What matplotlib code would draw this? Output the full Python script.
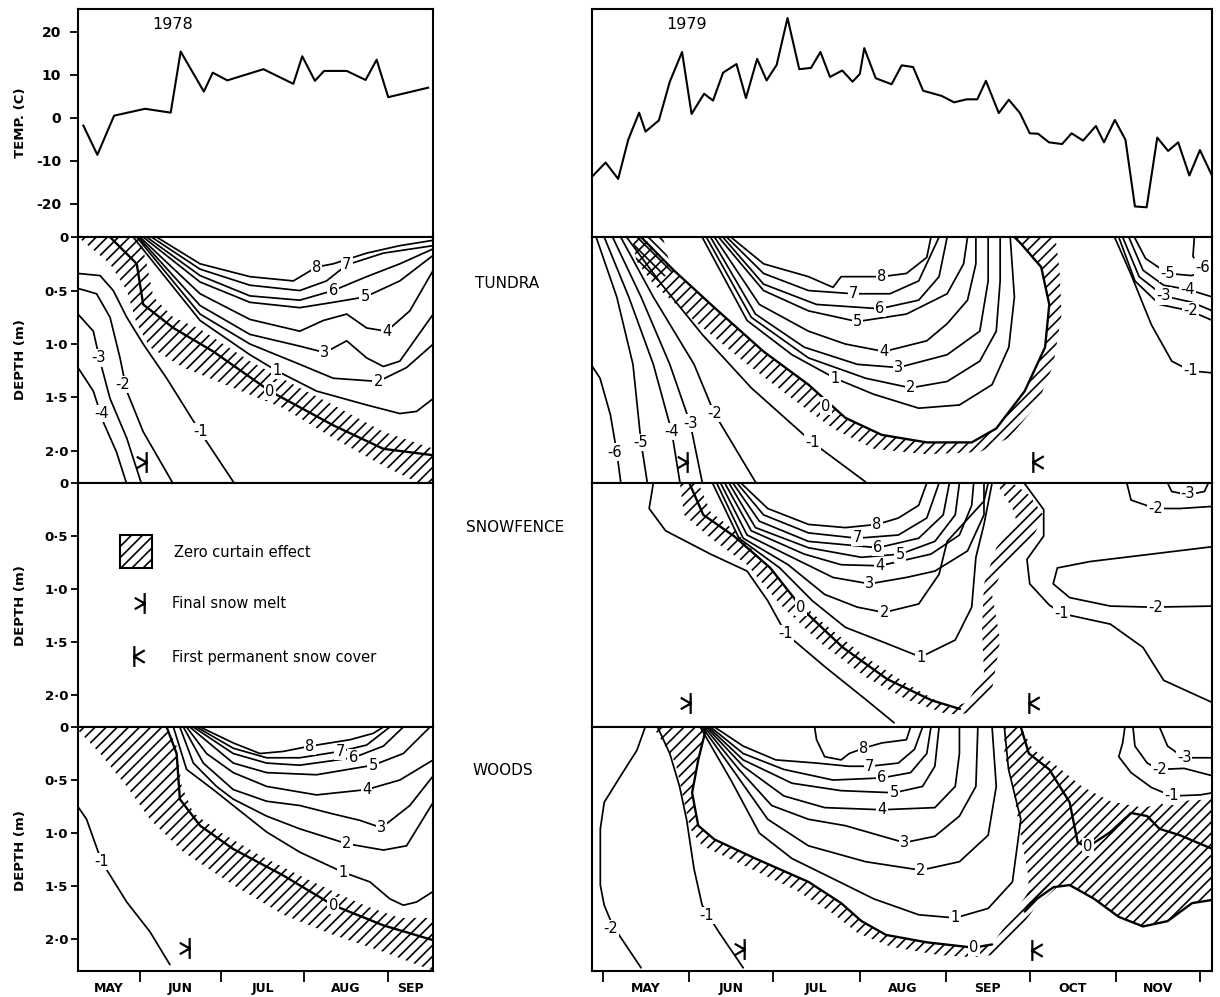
import matplotlib
matplotlib.use("Agg")
import matplotlib.pyplot as plt
from matplotlib.path import Path
from matplotlib.patches import Rectangle

# x values are days counted from 1 May, depth in metres

# ---- air temperature ----
TEMP78_DAY = [10.0, 15.2, 21.4, 32.9, 42.4, 46.1, 54.7, 58.0, 63.4, 76.8, 87.9, 91.2,
              95.9, 99.3, 107.7, 114.7, 118.8, 123.1, 137.9]
TEMP78_C = [-1.8, -8.6, 0.5, 2.1, 1.2, 15.4, 6.1, 10.5, 8.7, 11.3, 7.9, 14.3,
            8.6, 10.9, 10.9, 8.8, 13.5, 4.8, 7.0]

TEMP79_DAY = [-3.9, 1.0, 5.5, 9.1, 13.0, 15.3, 20.1, 24.0, 28.4, 31.8, 36.3, 39.5, 43.1,
              47.9, 51.3, 55.3, 58.7, 62.3, 66.2, 70.4, 74.6, 78.0, 81.4, 85.8, 89.5,
              92.1, 93.7, 97.8, 103.5, 107.1, 111.2, 114.8, 121.4, 125.9, 130.4, 134.2,
              137.3, 141.9, 145.5, 149.5, 153.0, 156.0, 159.9, 164.6, 168.0, 172.1,
              176.7, 179.6, 183.5, 187.3, 190.7, 194.9, 198.7, 202.6, 206.2, 210.2,
              214.0, 218.3]
TEMP79_C = [-13.7, -10.4, -14.2, -5.1, 1.2, -3.2, -0.6, 8.4, 15.3, 0.9, 5.6, 4.0, 10.5,
            12.5, 4.6, 13.7, 8.7, 12.3, 23.2, 11.3, 11.6, 15.3, 9.5, 11.0, 8.4,
            10.2, 16.2, 9.2, 7.8, 12.2, 11.8, 6.3, 5.1, 3.6, 4.3, 4.3,
            8.6, 1.1, 4.2, 1.1, -3.6, -3.7, -5.7, -6.1, -3.6, -5.3,
            -1.9, -5.7, -0.5, -5.1, -20.6, -20.8, -4.6, -7.7, -5.7, -13.4,
            -7.5, -13.4]

MONTHS_78 = ['MAY', 'JUN', 'JUL', 'AUG', 'SEP']
MONTH_EDGES_78 = [8, 31, 61, 92, 123, 139.7]
MONTHS_79 = ['MAY', 'JUN', 'JUL', 'AUG', 'SEP', 'OCT', 'NOV']
MONTH_EDGES_79 = [0, 31, 61, 92, 123, 153, 184, 214]

# ---- isotherms: (level, days, depths) ----
TUNDRA_78 = [
    (8, [37.2, 53.3, 71.8, 87.9, 96.5, 102.7, 115.1, 127.4, 139.8], [0, 0.25, 0.37, 0.41, 0.28, 0.25, 0.15, 0.08, 0.03]),
    (7, [35.3, 53.3, 71.8, 90.3, 100.2, 107.7, 121.3, 139.8], [0, 0.30, 0.45, 0.50, 0.41, 0.26, 0.15, 0.08]),
    (6, [33.5, 53.3, 71.8, 90.3, 102.7, 115.1, 127.4, 139.8], [0, 0.36, 0.55, 0.59, 0.50, 0.37, 0.25, 0.11]),
    (5, [32.2, 53.3, 71.8, 90.3, 102.7, 114.5, 127.4, 139.8], [0, 0.42, 0.61, 0.66, 0.61, 0.56, 0.41, 0.17]),
    (4, [31.0, 53.3, 71.8, 90.3, 99.0, 107.7, 115.1, 122.5, 131.1, 139.8], [0, 0.53, 0.77, 0.88, 0.78, 0.72, 0.85, 0.88, 0.69, 0.31]),
    (3, [30.4, 53.3, 71.8, 90.3, 99.6, 107.7, 115.1, 121.3, 127.4, 139.8], [0, 0.64, 0.91, 1.02, 1.08, 0.97, 1.13, 1.21, 1.16, 0.72]),
    (2, [29.8, 53.3, 71.8, 90.3, 102.7, 119.4, 129.9, 139.8], [0, 0.72, 1.00, 1.19, 1.32, 1.35, 1.22, 1.00]),
    (1, [28.5, 53.3, 71.8, 81.7, 96.5, 115.1, 127.4, 133.6, 139.8], [0, 0.78, 1.10, 1.25, 1.44, 1.57, 1.65, 1.63, 1.51]),
    (0, [19.9, 29.8, 32.2, 43.4, 58.2, 79.2, 102.7, 121.3, 139.8], [0, 0.25, 0.63, 0.85, 1.07, 1.44, 1.76, 1.98, 2.04]),
    (-1, [8.0, 16.2, 21.1, 26.1, 32.2, 40.9, 53.3, 66.2], [0.34, 0.36, 0.50, 0.75, 1.00, 1.32, 1.82, 2.31]),
    (-2, [8.0, 14.9, 19.9, 23.6, 26.1, 32.2, 43.4], [0.48, 0.53, 0.75, 1.13, 1.44, 1.82, 2.31]),
    (-3, [8.0, 13.7, 16.2, 19.9, 26.1, 31.6], [0.72, 0.88, 1.16, 1.51, 1.88, 2.31]),
    (-4, [8.0, 13.7, 17.4, 22.3, 26.1], [1.22, 1.44, 1.73, 2.01, 2.31]),
]
TUNDRA_78_LABELS = [('8', 96.5, 0.28), ('7', 107.7, 0.26), ('6', 102.7, 0.50), ('5', 114.5, 0.56),
                    ('4', 122.5, 0.88), ('3', 99.6, 1.08), ('2', 119.4, 1.35), ('1', 81.7, 1.25),
                    ('0', 79.2, 1.44), ('-1', 53.3, 1.82), ('-2', 24.5, 1.38), ('-3', 15.8, 1.13),
                    ('-4', 16.6, 1.65)]
TUNDRA_78_ZONE_DAY = [8.0, 19.9, 26.1, 29.8, 34.7, 47.1, 65.6, 84.2, 102.7, 121.3, 133.6, 140,
                      140, 121.3, 102.7, 90.3, 71.8, 53.3, 43.4, 36.0, 33.5, 31.0]
TUNDRA_78_ZONE_DEPTH = [0, 0.25, 0.50, 0.81, 1.03, 1.22, 1.41, 1.60, 1.88, 2.14, 2.29, 2.31,
                        1.98, 1.82, 1.57, 1.41, 1.16, 0.86, 0.75, 0.56, 0.25, 0]

WOODS_78 = [
    (8, [53.3, 65.6, 75.5, 84.2, 94.1, 108.9, 117.5, 121.3], [0, 0.15, 0.25, 0.23, 0.18, 0.12, 0.06, 0]),
    (7, [52.0, 65.6, 78.0, 90.3, 105.2, 115.1, 123.7], [0, 0.20, 0.29, 0.29, 0.23, 0.17, 0]),
    (6, [50.8, 65.6, 78.0, 90.3, 110.1, 121.3, 128.7], [0, 0.25, 0.34, 0.36, 0.29, 0.18, 0]),
    (5, [49.5, 65.6, 78.0, 96.5, 117.5, 128.7, 138.6], [0, 0.34, 0.43, 0.45, 0.36, 0.25, 0]),
    (4, [48.3, 55.7, 65.6, 78.0, 96.5, 115.1, 127.4, 139.8], [0, 0.25, 0.43, 0.56, 0.64, 0.59, 0.50, 0.31]),
    (3, [47.1, 54.5, 65.6, 78.0, 90.3, 102.7, 112.6, 120.6, 131.1, 139.8], [0, 0.34, 0.59, 0.70, 0.74, 0.82, 0.88, 0.95, 0.74, 0.46]),
    (2, [45.8, 50.8, 59.4, 65.6, 78.0, 90.3, 107.7, 121.3, 129.9, 139.8], [0, 0.34, 0.56, 0.68, 0.84, 0.96, 1.10, 1.16, 1.12, 0.71]),
    (1, [43.4, 48.3, 58.2, 65.6, 78.0, 90.3, 106.4, 116.3, 123.7, 128.7, 133.6, 139.8], [0, 0.40, 0.59, 0.74, 0.99, 1.18, 1.37, 1.46, 1.62, 1.68, 1.65, 1.55]),
    (0, [40.9, 44.6, 45.8, 53.3, 65.6, 84.2, 102.7, 121.3, 139.8], [0, 0.25, 0.68, 0.93, 1.15, 1.40, 1.68, 1.87, 2.01]),
    (-1, [6.9, 11.2, 16.8, 26.1, 34.7, 42.1], [0.71, 0.87, 1.27, 1.65, 1.93, 2.24]),
]
WOODS_78_LABELS = [('8', 94.1, 0.18), ('7', 105.2, 0.23), ('6', 110.1, 0.29), ('5', 117.5, 0.36),
                   ('4', 115.1, 0.59), ('3', 120.6, 0.95), ('2', 107.7, 1.10), ('1', 106.4, 1.37),
                   ('0', 102.7, 1.68), ('-1', 16.8, 1.27)]
WOODS_78_ZONE_DAY = [6.9, 16.2, 26.1, 34.7, 47.1, 65.6, 84.2, 102.7, 121.3, 140,
                     140, 127.4, 115.1, 102.7, 90.3, 75.5, 60.7, 50.8, 46.5, 44.6, 40.9]
WOODS_78_ZONE_DEPTH = [0, 0.25, 0.56, 0.87, 1.18, 1.49, 1.77, 1.96, 2.12, 2.30,
                       1.80, 1.80, 1.69, 1.55, 1.40, 1.21, 0.99, 0.81, 0.56, 0.18, 0]

TUNDRA_79 = [
    (8, [45.9, 57.6, 73.7, 82.5, 85.4, 94.2, 100.0, 108.8, 116.1, 117.6], [0, 0.25, 0.37, 0.47, 0.37, 0.37, 0.37, 0.34, 0.19, 0]),
    (7, [44.4, 57.6, 73.7, 89.8, 102.9, 113.2, 120.5], [0, 0.34, 0.50, 0.53, 0.53, 0.41, 0]),
    (6, [43.0, 57.6, 76.6, 99.3, 113.2, 120.5, 123.4], [0, 0.44, 0.63, 0.67, 0.59, 0.37, 0]),
    (5, [41.5, 57.6, 73.7, 91.2, 108.8, 123.4, 129.3, 130.7], [0, 0.50, 0.69, 0.79, 0.72, 0.53, 0.25, 0]),
    (4, [40.0, 56.1, 73.7, 86.9, 100.8, 116.1, 123.4, 130.7, 133.7, 133.7], [0, 0.63, 0.88, 1.00, 1.07, 0.97, 0.81, 0.59, 0.25, 0]),
    (3, [38.6, 54.7, 72.2, 91.2, 105.9, 123.4, 135.1, 138.1, 138.1], [0, 0.72, 1.03, 1.19, 1.22, 1.10, 0.88, 0.41, 0]),
    (2, [37.1, 53.2, 73.7, 94.2, 110.3, 123.4, 135.1, 141.0, 142.4, 142.4], [0, 0.75, 1.13, 1.32, 1.41, 1.35, 1.16, 0.88, 0.41, 0]),
    (1, [35.6, 51.7, 67.8, 83.2, 97.1, 113.2, 127.8, 139.5, 145.5, 147.5, 146.0], [0, 0.78, 1.10, 1.32, 1.47, 1.60, 1.57, 1.38, 1.03, 0.56, 0]),
    (0, [13.7, 25.4, 40.0, 57.6, 73.7, 86.9, 100.0, 116.1, 132.2, 141.0, 151.2, 158.5, 160.0, 157.1, 149.8, 147.5],
        [0, 0.31, 0.66, 1.07, 1.38, 1.69, 1.85, 1.92, 1.92, 1.79, 1.44, 1.03, 0.63, 0.28, 0.06, 0]),
    (-1, [8.5, 21.0, 35.6, 53.2, 75.1, 94.2], [0, 0.44, 0.91, 1.41, 1.92, 2.29]),
    (-2, [6.4, 18.1, 32.7, 40.0, 54.7], [0, 0.56, 1.19, 1.65, 2.29]),
    (-3, [3.5, 13.7, 24.0, 31.3, 35.6], [0, 0.56, 1.19, 1.74, 2.29]),
    (-4, [0.5, 9.3, 18.1, 24.7, 27.6], [0, 0.56, 1.19, 1.82, 2.29]),
    (-5, [-2.4, 5.0, 10.8, 13.7, 15.9], [0, 0.56, 1.19, 1.92, 2.29]),
    (-6, [-4.0, -1.0, 2.7, 5.0, 6.4], [1.20, 1.32, 1.66, 2.01, 2.29]),
    (-1, [183.4, 189.3, 196.6, 203.9, 210.5, 218.5], [0, 0.35, 0.82, 1.16, 1.25, 1.27]),
    (-2, [184.9, 190.7, 199.5, 210.5, 218.5], [0, 0.41, 0.63, 0.69, 0.78]),
    (-3, [186.3, 192.2, 201.0, 211.2, 218.5], [0, 0.37, 0.55, 0.61, 0.69]),
    (-4, [188.5, 193.6, 201.0, 209.7, 218.5], [0, 0.31, 0.45, 0.49, 0.56]),
    (-5, [190.5, 194.5, 202.4, 211.0, 218.5], [0, 0.20, 0.34, 0.36, 0.30]),
    (-6, [212.0, 211.5, 214.5, 218.5], [0, 0.18, 0.30, 0.28]),
]
TUNDRA_79_LABELS = [('8', 100.0, 0.37), ('7', 89.8, 0.53), ('6', 99.3, 0.67), ('5', 91.2, 0.79),
                    ('4', 100.8, 1.07), ('3', 105.9, 1.22), ('2', 110.3, 1.41), ('1', 83.2, 1.32),
                    ('0', 80.0, 1.58), ('-1', 75.1, 1.92), ('-2', 40.0, 1.65), ('-3', 31.3, 1.74),
                    ('-4', 24.7, 1.82), ('-5', 13.7, 1.92), ('-6', 4.2, 2.01),
                    ('-1', 210.5, 1.25), ('-2', 210.5, 0.69), ('-3', 201.0, 0.55),
                    ('-4', 209.7, 0.49), ('-5', 202.4, 0.34), ('-6', 214.9, 0.28)]
TUNDRA_79_ZONE_DAY = [14.5, 25.4, 40.0, 57.6, 73.7, 86.9, 100.0, 116.1, 132.2, 141.0, 151.2, 158.5, 160.0, 157.1, 149.8, 147.5,
                      162.2, 163.7, 164.4, 161.5, 155.6, 145.4, 135.1, 116.1, 97.1, 82.5, 67.8, 50.3, 32.7, 18.1, 12.0, 10.5]
TUNDRA_79_ZONE_DEPTH = [0, 0.31, 0.66, 1.07, 1.38, 1.69, 1.85, 1.92, 1.92, 1.79, 1.44, 1.03, 0.63, 0.28, 0.06, 0,
                        0, 0.31, 0.72, 1.19, 1.57, 1.88, 2.01, 2.03, 1.98, 1.79, 1.51, 1.16, 0.78, 0.44, 0.22, 0]
TUNDRA_79_CROSS_DAY = [10.5, 21.5, 23.5, 25.4, 18.1, 12.0]
TUNDRA_79_CROSS_DEPTH = [0, 0, 0.2, 0.31, 0.44, 0.22]

SNOW_79 = [
    (8, [49.5, 59.1, 73.7, 86.9, 98.3, 105.9, 113.2, 116.1], [0, 0.24, 0.39, 0.42, 0.39, 0.33, 0.21, 0]),
    (7, [48.1, 57.6, 73.7, 91.2, 105.9, 116.1, 120.5], [0, 0.30, 0.47, 0.52, 0.49, 0.33, 0]),
    (6, [46.6, 56.1, 73.7, 98.6, 113.2, 122.0, 124.2], [0, 0.36, 0.55, 0.61, 0.52, 0.30, 0]),
    (5, [45.2, 54.7, 73.7, 92.7, 106.6, 119.0, 126.3, 127.8], [0, 0.42, 0.61, 0.70, 0.67, 0.55, 0.30, 0]),
    (4, [43.7, 53.2, 72.2, 85.4, 99.3, 117.6, 127.8, 132.2, 132.9], [0, 0.45, 0.67, 0.77, 0.78, 0.67, 0.49, 0.21, 0]),
    (3, [42.2, 51.7, 67.8, 82.5, 95.6, 108.8, 119.0, 130.7, 136.6, 136.6], [0, 0.49, 0.70, 0.89, 0.95, 0.89, 0.83, 0.64, 0.30, 0]),
    (2, [40.8, 50.3, 66.4, 79.5, 91.2, 100.8, 113.2, 120.5, 123.4, 136.6, 138.1], [0, 0.52, 0.77, 1.05, 1.17, 1.22, 1.14, 0.86, 0.55, 0.17, 0]),
    (1, [39.3, 48.8, 63.4, 75.1, 86.9, 101.5, 113.9, 126.3, 132.2, 133.7, 136.6, 139.5], [0, 0.52, 0.80, 1.11, 1.36, 1.51, 1.64, 1.48, 1.17, 0.70, 0.39, 0]),
    (0, [31.0, 36.0, 47.0, 60.0, 72.0, 86.0, 102.0, 118.0, 128.0], [0, 0.30, 0.50, 0.80, 1.20, 1.55, 1.85, 2.05, 2.13]),
    (-1, [18.1, 16.6, 22.5, 38.6, 51.7, 59.1, 65.6, 79.5, 94.2, 104.4], [0, 0.24, 0.45, 0.67, 0.83, 1.11, 1.42, 1.73, 2.04, 2.26]),
    (-1, [151.0, 158.0, 158.0, 152.0, 153.0, 160.0, 164.4, 181.9, 193.6, 201.0, 218.5], [0, 0.25, 0.50, 0.72, 0.95, 1.15, 1.23, 1.33, 1.55, 1.86, 2.07]),
    (-2, [218.5, 196.6, 174.6, 162.9, 161.4, 167.3, 181.9, 196.6, 218.5], [0.60, 0.67, 0.74, 0.80, 0.95, 1.08, 1.16, 1.17, 1.16]),
    (-2, [187.8, 189.3, 198.0, 206.9, 218.5], [0, 0.16, 0.24, 0.24, 0.22]),
    (-3, [202.4, 203.9, 209.7, 215.6, 217.0], [0, 0.08, 0.11, 0.08, 0]),
]
SNOW_79_LABELS = [('8', 98.3, 0.39), ('7', 91.2, 0.51), ('6', 98.6, 0.61), ('5', 106.6, 0.67),
                  ('4', 99.3, 0.78), ('3', 95.6, 0.95), ('2', 100.8, 1.22), ('1', 113.9, 1.64),
                  ('0', 71.0, 1.17), ('-1', 65.6, 1.42), ('-1', 164.4, 1.23), ('-2', 198.0, 1.17),
                  ('-2', 198.0, 0.24), ('-3', 209.7, 0.10)]
SNOW_79_ZONE_DAY = [27.6, 29.1, 38.6, 51.7, 63.4, 78.1, 94.2, 108.8, 123.4, 132.2, 139.5, 142.4, 139.5, 143.9, 154.1, 157.8, 152.7, 146.8,
                    141.0, 146.8, 148.3, 141.0, 136.6, 135.9, 136.6, 130.7, 123.4, 108.8, 94.2, 79.5, 67.8, 57.6, 47.3, 38.6, 34.2]
SNOW_79_ZONE_DEPTH = [0, 0.30, 0.52, 0.77, 1.14, 1.51, 1.83, 2.04, 2.18, 2.17, 1.95, 1.48, 1.05, 0.77, 0.52, 0.30, 0.11, 0,
                      0, 0.24, 0.36, 0.61, 0.95, 1.39, 1.79, 2.07, 2.11, 1.89, 1.64, 1.33, 1.05, 0.74, 0.45, 0.27, 0]

WOODS_79 = [
    (8, [75.9, 76.6, 79.5, 85.4, 88.3, 93.4, 100.0, 108.8, 110.3], [0, 0.12, 0.28, 0.31, 0.25, 0.20, 0.15, 0.12, 0]),
    (7, [40.0, 50.3, 62.0, 76.6, 88.3, 95.6, 105.9, 111.7, 114.6], [0, 0.18, 0.31, 0.34, 0.37, 0.37, 0.34, 0.21, 0]),
    (6, [38.6, 50.3, 64.9, 82.5, 100.0, 110.3, 116.1, 117.6], [0, 0.25, 0.40, 0.50, 0.48, 0.43, 0.25, 0]),
    (5, [37.8, 50.3, 67.8, 85.4, 104.4, 114.6, 119.0, 120.5], [0, 0.31, 0.53, 0.60, 0.62, 0.56, 0.37, 0]),
    (4, [37.1, 50.3, 64.9, 79.5, 100.0, 119.0, 126.3, 127.8, 127.8], [0, 0.37, 0.65, 0.76, 0.78, 0.76, 0.56, 0.25, 0]),
    (3, [36.4, 48.8, 60.5, 73.7, 86.9, 108.1, 119.0, 127.8, 133.7, 134.4], [0, 0.40, 0.74, 0.87, 0.93, 1.09, 1.03, 0.84, 0.56, 0]),
    (2, [35.6, 47.3, 59.1, 73.7, 94.2, 114.0, 127.8, 138.1, 141.0, 139.5], [0, 0.43, 0.87, 1.12, 1.27, 1.35, 1.27, 1.02, 0.56, 0]),
    (1, [34.9, 45.9, 56.1, 67.8, 82.5, 97.1, 113.2, 126.3, 138.1, 146.8, 149.8, 145.4, 143.9],
        [0, 0.50, 1.00, 1.24, 1.43, 1.62, 1.77, 1.80, 1.71, 1.46, 0.87, 0.40, 0]),
    (0, [37.1, 34.2, 32.0, 34.2, 40.0, 54.7, 73.7, 85.4, 92.7, 101.5, 116.1, 132.9, 139.5],
        [0, 0.31, 0.62, 0.93, 1.06, 1.24, 1.46, 1.66, 1.83, 1.96, 2.03, 2.08, 2.05]),
    (0, [149.8, 152.7, 160.0, 167.3, 170.2, 173.9, 181.9, 189.3, 195.1, 199.5, 206.8, 218.5],
        [0, 0.25, 0.40, 0.71, 1.09, 1.13, 0.99, 0.81, 0.84, 0.96, 1.02, 1.15]),
    (0, [151.2, 155.6, 161.5, 167.3, 176.1, 184.9, 193.6, 202.4, 211.2, 218.5],
        [1.74, 1.62, 1.51, 1.49, 1.62, 1.79, 1.88, 1.83, 1.66, 1.63]),
    (-1, [19.6, 24.0, 27.5, 30.0, 32.7, 35.6, 41.5, 50.3], [0, 0.25, 0.56, 0.87, 1.34, 1.68, 1.93, 2.27]),
    (-2, [15.2, 12.2, 6.4, 0.5, -0.9, -0.9, 0.5, 3.5, 13.7], [0, 0.22, 0.46, 0.71, 0.96, 1.49, 1.68, 1.87, 2.27]),
    (-1, [187.1, 186.3, 184.9, 189.3, 196.6, 203.9, 214.1, 218.5], [0, 0.15, 0.28, 0.43, 0.57, 0.65, 0.64, 0.62]),
    (-2, [190.0, 190.7, 195.1, 199.5, 208.3, 218.5], [0, 0.18, 0.34, 0.40, 0.39, 0.46]),
    (-3, [199.5, 202.4, 208.3, 218.5], [0, 0.18, 0.29, 0.29]),
]
WOODS_79_LABELS = [('8', 93.4, 0.20), ('7', 95.6, 0.37), ('6', 100.0, 0.48), ('5', 104.4, 0.62),
                   ('4', 100.0, 0.78), ('3', 108.1, 1.09), ('2', 114.0, 1.35), ('1', 126.3, 1.80),
                   ('0', 132.9, 2.08), ('0', 173.9, 1.13), ('-1', 37.1, 1.78), ('-2', 2.7, 1.90),
                   ('-1', 203.9, 0.65), ('-2', 199.5, 0.40), ('-3', 208.3, 0.29)]
WOODS_79_ZONE_A_DAY = [18.1, 26.1, 29.1, 31.3, 35.6, 51.7, 69.3, 82.5, 91.2, 102.9, 120.5, 132.2, 139.5, 146.8, 155.6, 162.9,
                       160.0, 152.7, 145.4, 139.5, 132.9, 116.1, 101.5, 92.7, 85.4, 73.7, 54.7, 40.0, 34.2, 32.0, 34.2, 37.1]
WOODS_79_ZONE_A_DEPTH = [0, 0.34, 0.71, 0.96, 1.12, 1.32, 1.54, 1.76, 1.94, 2.07, 2.15, 2.17, 2.15, 1.99, 1.68, 1.51,
                         1.46, 1.55, 1.83, 2.05, 2.08, 2.03, 1.96, 1.83, 1.66, 1.46, 1.24, 1.06, 0.93, 0.62, 0.31, 0]
WOODS_79_ZONE_B_DAY = [143.9, 149.8, 154.1, 162.9, 171.7, 181.9, 193.6, 205.4, 218.5, 218.5, 211.2, 202.4, 193.6,
                       184.9, 176.1, 167.3, 161.5, 155.6, 151.2, 152.7, 149.8, 146.8, 143.9]
WOODS_79_ZONE_B_DEPTH = [0, 0, 0.21, 0.37, 0.56, 0.70, 0.76, 0.70, 0.68, 1.63, 1.66, 1.83, 1.88,
                         1.79, 1.62, 1.49, 1.51, 1.62, 1.74, 1.43, 1.02, 0.56, 0.25]

# snow markers (day, depth)
MELT_78 = {'tundra': (31.6, 2.10), 'woods': (47.7, 2.08)}
MELT_79 = {'tundra': (28.7, 2.10), 'snow': (29.7, 2.07), 'woods': (49.1, 2.09)}
COVER_79 = {'tundra': (155.6, 2.10), 'snow': (154.0, 2.07), 'woods': (155.4, 2.10)}

DEPTH_TICKS = [0, 0.5, 1.0, 1.5, 2.0]
DEPTH_LABELS = ['0', '0·5', '1·0', '1·5', '2·0']
TEMP_TICKS = [-20, -10, 0, 10, 20]

plt.rcParams['font.family'] = 'DejaVu Sans'
plt.rcParams['hatch.linewidth'] = 1.2
plt.rcParams['hatch.color'] = 'black'

M, L = Path.MOVETO, Path.LINETO
MELT_MARK = Path([(-0.55, 0.55), (0.4, 0.0), (-0.55, -0.55), (0.4, 1.0), (0.4, -1.0)], [M, L, L, M, L])
COVER_MARK = Path([(-0.4, 1.0), (-0.4, -1.0), (0.6, 0.6), (-0.4, 0.0), (0.6, -0.6)], [M, L, M, L, L])

fig = plt.figure(figsize=(12.2, 9.97), dpi=100)
cols = {'78': (0.0639, 0.291), '79': (0.4852, 0.5082)}
rows = {'temp': (0.7623, 0.2287), 'tundra': (0.5155, 0.2467), 'snow': (0.2708, 0.2447), 'woods': (0.0261, 0.2447)}
XLIM = {'78': (8, 139.7), '79': (-3.9, 218.3)}


def make_ax(col, row):
    x0, w = cols[col]
    y0, h = rows[row]
    ax = fig.add_axes([x0, y0, w, h])
    ax.set_xlim(*XLIM[col])
    for s in ax.spines.values():
        s.set_linewidth(1.5)
    ax.set_xticks([])
    if row == 'temp':
        ax.set_ylim(-27.7, 25.3)
        if col == '78':
            ax.set_yticks(TEMP_TICKS)
            ax.set_yticklabels([str(t) for t in TEMP_TICKS], fontsize=10, fontweight='bold')
            ax.tick_params(axis='y', direction='out', length=6, width=1.3, pad=6)
        else:
            ax.set_yticks([])
    else:
        ax.set_ylim(2.3, 0)
        if col == '78':
            ax.set_yticks(DEPTH_TICKS)
            ax.set_yticklabels(DEPTH_LABELS, fontsize=9.5, fontweight='bold')
            ax.tick_params(axis='y', direction='out', length=5, width=1.3, pad=2)
        else:
            ax.set_yticks([])
    return ax


def draw_depth(ax, lines, labels, zones, cross=None):
    for xs, ys in zones:
        ax.fill(xs, ys, facecolor='none', edgecolor='black', hatch='///', linewidth=0, zorder=1)
    if cross is not None:
        ax.fill(cross[0], cross[1], facecolor='none', edgecolor='black', hatch='\\\\\\', linewidth=0, zorder=1)
    for level, xs, ys in lines:
        lw = 1.7 if level == 0 else 1.25
        ax.plot(xs, ys, color='black', lw=lw, solid_joinstyle='round', solid_capstyle='round', zorder=2)
    for txt, x, y in labels:
        ax.text(x, y, txt, ha='center', va='center', fontsize=10.5, zorder=3,
                bbox=dict(boxstyle='square,pad=0.08', fc='white', ec='none'))


def draw_mark(ax, pos, mark):
    ax.plot([pos[0]], [pos[1]], marker=mark, ms=15, mew=1.6, mec='black', mfc='none',
            linestyle='none', zorder=4)


def month_axis(ax, edges, names):
    ax.set_xticks(edges[1:-1] if edges[0] > 0 else edges)
    ax.tick_params(axis='x', which='major', direction='out', length=8, width=1.3, labelbottom=False)
    mids = [(a + b) / 2 for a, b in zip(edges[:-1], edges[1:])]
    ax.set_xticks(mids, minor=True)
    ax.set_xticklabels(names, minor=True, fontsize=9, fontweight='bold')
    ax.tick_params(axis='x', which='minor', length=0, pad=8)


# ---- temperature panels ----
ax = make_ax('78', 'temp')
ax.plot(TEMP78_DAY, TEMP78_C, color='black', lw=1.5)
ax.text(43.2, 21.6, '1978', ha='center', va='center', fontsize=11.5)
ax = make_ax('79', 'temp')
ax.plot(TEMP79_DAY, TEMP79_C, color='black', lw=1.5)
ax.text(30.1, 21.6, '1979', ha='center', va='center', fontsize=11.5)

# ---- tundra ----
ax = make_ax('78', 'tundra')
draw_depth(ax, TUNDRA_78, TUNDRA_78_LABELS, [(TUNDRA_78_ZONE_DAY, TUNDRA_78_ZONE_DEPTH)])
draw_mark(ax, MELT_78['tundra'], MELT_MARK)
ax = make_ax('79', 'tundra')
draw_depth(ax, TUNDRA_79, TUNDRA_79_LABELS, [(TUNDRA_79_ZONE_DAY, TUNDRA_79_ZONE_DEPTH)],
           cross=(TUNDRA_79_CROSS_DAY, TUNDRA_79_CROSS_DEPTH))
draw_mark(ax, MELT_79['tundra'], MELT_MARK)
draw_mark(ax, COVER_79['tundra'], COVER_MARK)

# ---- snowfence (1978 holds the legend) ----
ax = make_ax('78', 'snow')
ax.add_patch(Rectangle((0.118, 0.652), 0.09, 0.135, transform=ax.transAxes, fill=False,
                       hatch='///', lw=1.5, edgecolor='black'))
ax.text(0.27, 0.715, 'Zero curtain effect', transform=ax.transAxes, va='center', fontsize=10.5)
ax.plot([0.175], [0.508], marker=MELT_MARK, ms=15, mew=1.6, mec='black', mfc='none',
        transform=ax.transAxes)
ax.text(0.265, 0.508, 'Final snow melt', transform=ax.transAxes, va='center', fontsize=10.5)
ax.plot([0.169], [0.29], marker=COVER_MARK, ms=15, mew=1.6, mec='black', mfc='none',
        transform=ax.transAxes)
ax.text(0.265, 0.285, 'First permanent snow cover', transform=ax.transAxes, va='center', fontsize=10.5)
ax = make_ax('79', 'snow')
draw_depth(ax, SNOW_79, SNOW_79_LABELS, [(SNOW_79_ZONE_DAY, SNOW_79_ZONE_DEPTH)])
draw_mark(ax, MELT_79['snow'], MELT_MARK)
draw_mark(ax, COVER_79['snow'], COVER_MARK)

# ---- woods ----
ax = make_ax('78', 'woods')
draw_depth(ax, WOODS_78, WOODS_78_LABELS, [(WOODS_78_ZONE_DAY, WOODS_78_ZONE_DEPTH)])
draw_mark(ax, MELT_78['woods'], MELT_MARK)
month_axis(ax, MONTH_EDGES_78, MONTHS_78)
ax = make_ax('79', 'woods')
draw_depth(ax, WOODS_79, WOODS_79_LABELS, [(WOODS_79_ZONE_A_DAY, WOODS_79_ZONE_A_DEPTH),
                                           (WOODS_79_ZONE_B_DAY, WOODS_79_ZONE_B_DEPTH)])
draw_mark(ax, MELT_79['woods'], MELT_MARK)
draw_mark(ax, COVER_79['woods'], COVER_MARK)
month_axis(ax, MONTH_EDGES_79, MONTHS_79)

# site names and axis titles
fig.text(0.4156, 0.716, 'TUNDRA', ha='center', va='center', fontsize=11)
fig.text(0.422, 0.4714, 'SNOWFENCE', ha='center', va='center', fontsize=11)
fig.text(0.412, 0.2267, 'WOODS', ha='center', va='center', fontsize=11)
fig.text(0.0165, 0.877, 'TEMP. (C)', rotation=90, ha='center', va='center', fontsize=9.5, fontweight='bold')
for yc in (0.639, 0.393, 0.147):
    fig.text(0.0165, yc, 'DEPTH (m)', rotation=90, ha='center', va='center', fontsize=9.5, fontweight='bold')

fig.savefig('out.png', dpi=100)
